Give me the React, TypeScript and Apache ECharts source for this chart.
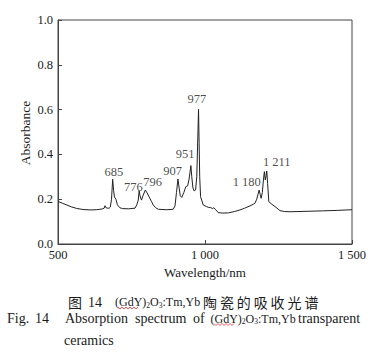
import React, { useEffect, useRef } from "react";
import * as echarts from "echarts";

const wavelengths = [
  500, 515, 530, 545, 563, 585, 609, 630, 643, 652, 657, 660, 663, 668, 674, 678, 682, 686, 689, 692, 697, 702, 710, 720, 740, 762,
  768, 773, 776, 779, 784, 789, 797, 803, 810, 818, 824, 832, 841, 870, 892, 898, 903, 908, 912, 916, 921, 928, 935, 941,
  946, 952, 955, 959, 963, 968, 972, 976, 978, 980, 982, 985, 994, 1005, 1011, 1020, 1026, 1030, 1035, 1045, 1060, 1080,
  1100, 1119, 1135, 1153, 1165, 1170, 1176, 1184, 1188, 1191, 1195, 1199, 1202, 1205, 1208, 1210, 1213, 1217, 1225, 1238,
  1245, 1255, 1270, 1289, 1350, 1400, 1450, 1500,
];
const absorbance = [
  0.19, 0.182, 0.174, 0.166, 0.159, 0.154, 0.152, 0.153, 0.155, 0.157, 0.16, 0.171, 0.162, 0.16, 0.16, 0.165, 0.2, 0.289, 0.24, 0.21, 0.2, 0.175, 0.162, 0.158, 0.157, 0.16,
  0.175, 0.196, 0.238, 0.215, 0.196, 0.215, 0.241, 0.228, 0.21, 0.19, 0.174, 0.162, 0.155, 0.153, 0.155, 0.17, 0.23, 0.29, 0.25, 0.215,
  0.208, 0.23, 0.256, 0.26, 0.29, 0.35, 0.3, 0.25, 0.237, 0.241, 0.3, 0.5, 0.601, 0.45, 0.3, 0.211, 0.174, 0.167, 0.164, 0.162,
  0.158, 0.162, 0.155, 0.14, 0.138, 0.139, 0.145, 0.152, 0.16, 0.17, 0.178, 0.182, 0.2, 0.241, 0.22, 0.204, 0.23, 0.29, 0.323,
  0.286, 0.305, 0.326, 0.27, 0.189, 0.18, 0.167, 0.16, 0.149, 0.145, 0.144, 0.146, 0.148, 0.15, 0.153,
];

const peakLabels = ["685", "776", "796", "907", "951", "977", "1 180", "1 211"];
const peakLabelX = [690, 756, 822, 890, 932, 972, 1142, 1244];
const peakLabelY = [0.32, 0.256, 0.275, 0.327, 0.4, 0.649, 0.275, 0.365];

const xTicks = [500, 1000, 1500];
const yTicks = [0, 0.2, 0.4, 0.6, 0.8, 1.0];

const serif = "Liberation Serif, serif";
const cjk = "Noto Sans CJK SC, sans-serif";
const ink = "#1a1a1a";
const axisColor = "#444";

function fmtX(v: number): string {
  if (v >= 1000) {
    return `${Math.floor(v / 1000)} ${String(v % 1000).padStart(3, "0")}`;
  }
  return String(v);
}

const cnChars = ["陶", "瓷", "的", "吸", "收", "光", "谱"];

function txt(text: string, x: number, y: number, size: number, family: string, align = "left", extra: any = {}) {
  return {
    type: "text",
    x,
    y,
    ...extra,
    style: {
      text,
      fontSize: size,
      fontFamily: family,
      fill: ink,
      textAlign: align,
      textVerticalAlign: "middle",
    },
  };
}

function formula(x: number, y: number) {
  return {
    type: "text",
    x,
    y,
    style: {
      text: "{m|(GdY)}{s|2}{m|O}{s|3}{m|:Tm,Yb}",
      textAlign: "left",
      textVerticalAlign: "middle",
      rich: {
        m: { fontSize: 12, fontFamily: serif, fill: ink, color: ink, lineHeight: 14 },
        s: { fontSize: 7.5, fontFamily: serif, fill: ink, color: ink, verticalAlign: "bottom", lineHeight: 9 },
      },
    },
  };
}

export default function App() {
  const ref = useRef<HTMLDivElement>(null);
  useEffect(() => {
    document.body.style.margin = "0";
    if (!ref.current) return;
    const chart = echarts.init(ref.current, undefined, { renderer: "svg" });
    const lineData = wavelengths.map((w, i) => [w, absorbance[i]]);
    const labelData = peakLabels.map((t, i) => ({ value: [peakLabelX[i], peakLabelY[i]], name: t }));

    const cnGraphics = cnChars.map((c, i) => txt(c, 210 + i * 16.9, 302, 14, cjk, "center"));

    const line2Words: [string, number][] = [
      ["Fig.", 7],
      ["14", 35],
      ["Absorption", 65],
      ["spectrum", 135],
      ["of", 193],
      ["transparent", 298],
    ];
    const line2 = line2Words.map(([t, x]) => txt(t, x, 318.5, 14, serif));

    const wavy = (x0: number, x1: number, y: number) => {
      const pts: number[][] = [];
      let up = true;
      for (let x = x0; x <= x1; x += 2) {
        pts.push([x, up ? y - 1 : y + 1]);
        up = !up;
      }
      return { type: "polyline", shape: { points: pts }, style: { stroke: "#e03030", lineWidth: 0.8, fill: null } };
    };

    chart.setOption({
      animation: false,
      textStyle: { fontFamily: serif },
      grid: { left: 58, right: 40, top: 20, bottom: 109, show: true, borderColor: axisColor, borderWidth: 1, backgroundColor: "transparent" },
      xAxis: {
        type: "value",
        min: xTicks[0],
        max: xTicks[xTicks.length - 1],
        interval: 500,
        axisLine: { show: true, lineStyle: { color: axisColor, width: 1 } },
        axisTick: { show: true, inside: true, length: 4, lineStyle: { color: axisColor } },
        splitLine: { show: false },
        axisLabel: { color: ink, fontFamily: serif, fontSize: 12.5, margin: 4, formatter: (v: number) => fmtX(v) },
      },
      yAxis: {
        type: "value",
        min: yTicks[0],
        max: yTicks[yTicks.length - 1],
        interval: 0.2,
        axisLine: { show: true, lineStyle: { color: axisColor, width: 1 } },
        axisTick: { show: true, inside: true, length: 4, lineStyle: { color: axisColor } },
        splitLine: { show: false },
        axisLabel: { color: ink, fontFamily: serif, fontSize: 12.5, margin: 5, formatter: (v: number) => v.toFixed(1) },
      },
      series: [
        {
          type: "line",
          data: lineData,
          showSymbol: false,
          symbol: "none",
          lineStyle: { color: "#222", width: 1 },
          z: 3,
        },
        {
          type: "scatter",
          data: labelData,
          symbolSize: 0,
          label: {
            show: true,
            position: "inside",
            formatter: (p: any) => p.name,
            color: ink,
            fontFamily: serif,
            fontSize: 12.5,
          },
          z: 4,
        },
      ],
      graphic: [
        txt("Absorbance", 25, 133, 13.5, serif, "center", { rotation: Math.PI / 2 }),
        txt("Wavelength/nm", 205, 272.5, 13, serif, "center"),
        txt("图", 68, 302, 14, cjk),
        txt("14", 88, 302, 14, serif),
        formula(115, 302),
        ...cnGraphics,
        ...line2,
        formula(210.5, 318.5),
        txt("ceramics", 64, 340, 14, serif),
        wavy(118, 138, 308),
        wavy(214, 234, 324.5),
      ],
    });
    return () => chart.dispose();
  }, []);
  return <div ref={ref} style={{ width: 392, height: 353 }} />;
}
